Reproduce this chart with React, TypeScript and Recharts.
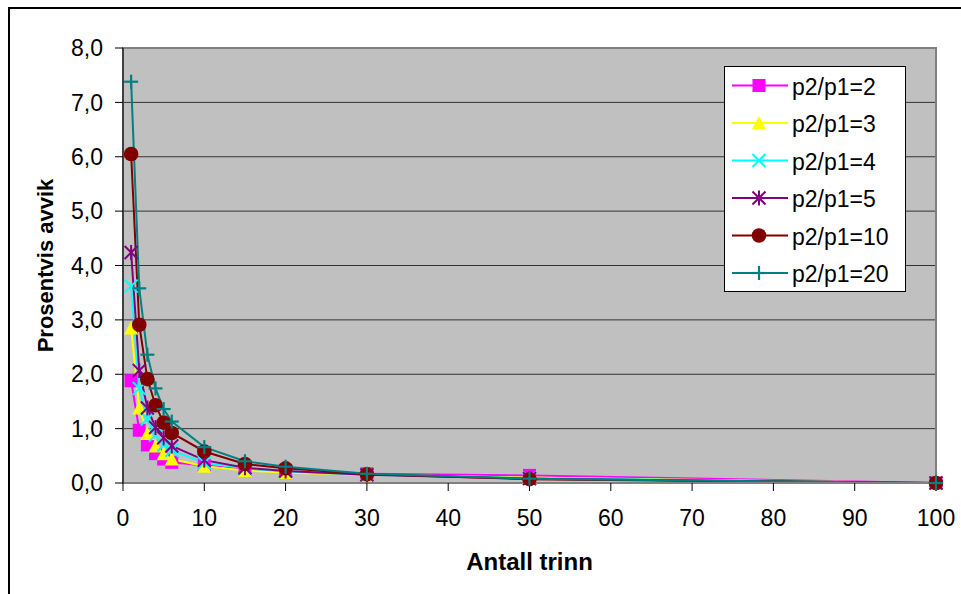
import {
  CartesianGrid,
  Legend,
  Line,
  LineChart,
  ReferenceArea,
  XAxis,
  YAxis,
} from "recharts";

const FONT = "'Liberation Sans', Arial, Helvetica, sans-serif";

// antall trinn
const steps = [1, 2, 3, 4, 5, 6, 10, 15, 20, 30, 50, 100];

// prosentvis avvik per trykkforhold
const ratio2 = [1.88, 0.97, 0.7, 0.54, 0.44, 0.38, 0.32, 0.25, 0.19, 0.17, 0.14, 0];
const ratio3 = [2.85, 1.38, 0.91, 0.68, 0.54, 0.44, 0.31, 0.23, 0.19, 0.15, 0.1, 0];
const ratio4 = [3.62, 1.74, 1.18, 0.88, 0.7, 0.6, 0.37, 0.27, 0.21, 0.15, 0.09, 0];
const ratio5 = [4.24, 2.07, 1.38, 1.02, 0.83, 0.68, 0.42, 0.28, 0.22, 0.15, 0.08, 0];
const ratio10 = [6.05, 2.91, 1.91, 1.43, 1.11, 0.92, 0.58, 0.35, 0.27, 0.16, 0.07, 0];
const ratio20 = [7.38, 3.58, 2.36, 1.74, 1.36, 1.13, 0.66, 0.4, 0.3, 0.17, 0.08, 0];

const xTicks = [0, 10, 20, 30, 40, 50, 60, 70, 80, 90, 100];
const yTicks = [0, 1, 2, 3, 4, 5, 6, 7, 8];

type Shape = "square" | "triangle" | "x" | "star" | "circle" | "plus";

const series: { key: string; name: string; color: string; shape: Shape }[] = [
  { key: "r2", name: "p2/p1=2", color: "#FF00FF", shape: "square" },
  { key: "r3", name: "p2/p1=3", color: "#FFFF00", shape: "triangle" },
  { key: "r4", name: "p2/p1=4", color: "#00FFFF", shape: "x" },
  { key: "r5", name: "p2/p1=5", color: "#800080", shape: "star" },
  { key: "r10", name: "p2/p1=10", color: "#800000", shape: "circle" },
  { key: "r20", name: "p2/p1=20", color: "#008080", shape: "plus" },
];

const data = steps.map((x, i) => ({
  x,
  r2: ratio2[i],
  r3: ratio3[i],
  r4: ratio4[i],
  r5: ratio5[i],
  r10: ratio10[i],
  r20: ratio20[i],
}));

const fmt = (v: number) => v.toFixed(1).replace(".", ",");

function Marker({ cx, cy, shape, color }: { cx: number; cy: number; shape: Shape; color: string }) {
  const s = 6.5;
  switch (shape) {
    case "square":
      return <rect x={cx - s} y={cy - s} width={s * 2} height={s * 2} fill={color} />;
    case "triangle":
      return (
        <polygon
          points={`${cx},${cy - s - 0.5} ${cx + s + 0.5},${cy + s} ${cx - s - 0.5},${cy + s}`}
          fill={color}
        />
      );
    case "x":
      return (
        <g stroke={color} strokeWidth={2}>
          <line x1={cx - s} y1={cy - s} x2={cx + s} y2={cy + s} />
          <line x1={cx - s} y1={cy + s} x2={cx + s} y2={cy - s} />
        </g>
      );
    case "star":
      return (
        <g stroke={color} strokeWidth={2}>
          <line x1={cx - s} y1={cy - s} x2={cx + s} y2={cy + s} />
          <line x1={cx - s} y1={cy + s} x2={cx + s} y2={cy - s} />
          <line x1={cx} y1={cy - s - 1} x2={cx} y2={cy + s + 1} />
        </g>
      );
    case "circle":
      return <circle cx={cx} cy={cy} r={7.3} fill={color} />;
    default:
      return (
        <g stroke={color} strokeWidth={2.2}>
          <line x1={cx - s - 0.5} y1={cy} x2={cx + s + 0.5} y2={cy} />
          <line x1={cx} y1={cy - s - 0.5} x2={cx} y2={cy + s + 0.5} />
        </g>
      );
  }
}

function LegendBox() {
  return (
    <svg width={182} height={226} style={{ display: "block" }}>
      <rect x={0.5} y={0.5} width={181} height={225} fill="#fff" stroke="#000" strokeWidth={1} />
      {series.map((s, i) => {
        const cy = 19.5 + i * 37.5;
        return (
          <g key={s.key}>
            <line x1={8} y1={cy} x2={64} y2={cy} stroke={s.color} strokeWidth={2} />
            <Marker cx={35} cy={cy} shape={s.shape} color={s.color} />
            <text x={68} y={cy + 9} fontSize={23} fontFamily={FONT} fill="#000">
              {s.name}
            </text>
          </g>
        );
      })}
    </svg>
  );
}

function YTitle(props: any) {
  const vb = props.viewBox || { x: 43, y: 48, width: 80, height: 435 };
  const x = vb.x + 10;
  const y = vb.y + vb.height / 2;
  return (
    <text
      x={x}
      y={y}
      transform={`rotate(-90 ${x} ${y})`}
      textAnchor="middle"
      fontSize={22}
      fontWeight="bold"
      fontFamily={FONT}
      fill="#000"
    >
      Prosentvis avvik
    </text>
  );
}

function XTitle(props: any) {
  const vb = props.viewBox || { x: 123, y: 483, width: 813, height: 100 };
  return (
    <text
      x={vb.x + vb.width / 2}
      y={vb.y + 87}
      textAnchor="middle"
      fontSize={24}
      fontWeight="bold"
      fontFamily={FONT}
      fill="#000"
    >
      Antall trinn
    </text>
  );
}

export default function App() {
  return (
    <div
      style={{
        position: "fixed",
        left: 0,
        top: 0,
        width: 961,
        height: 594,
        overflow: "hidden",
        background: "#fff",
        fontFamily: FONT,
      }}
    >
      <div
        style={{
          position: "absolute",
          left: 8,
          top: 7,
          right: -10,
          bottom: -10,
          borderLeft: "2px solid #000",
          borderTop: "2px solid #000",
        }}
      />
      <div style={{ position: "absolute", left: 0, top: 0 }}>
        <LineChart
          width={961}
          height={594}
          data={data}
          margin={{ top: 48, right: 25, left: 43, bottom: 11 }}
        >
          <CartesianGrid
            vertical={false}
            fill="#C0C0C0"
            stroke="#333"
            strokeWidth={1}
            fillOpacity={1}
          />
          <ReferenceArea
            x1={0}
            x2={100}
            y1={0}
            y2={8}
            fill="none"
            stroke="#808080"
            strokeWidth={2}
            ifOverflow="visible"
          />
          <XAxis
            dataKey="x"
            type="number"
            domain={[0, 100]}
            ticks={xTicks}
            height={100}
            tickSize={8}
            tickMargin={19}
            axisLine={{ stroke: "#808080", strokeWidth: 2 }}
            tickLine={{ stroke: "#000" }}
            tick={{ fontSize: 23, fill: "#000", fontFamily: FONT }}
            label={<XTitle />}
          />
          <YAxis
            type="number"
            domain={[0, 8]}
            ticks={yTicks}
            width={80}
            tickSize={8}
            tickMargin={12}
            tickFormatter={fmt}
            axisLine={{ stroke: "#000" }}
            tickLine={{ stroke: "#000" }}
            tick={{ fontSize: 23, fill: "#000", fontFamily: FONT }}
            label={<YTitle />}
          />
          {series.map((s) => (
            <Line
              key={s.key}
              type="linear"
              dataKey={s.key}
              name={s.name}
              stroke={s.color}
              strokeWidth={2}
              isAnimationActive={false}
              activeDot={false}
              dot={(p: any) => (
                <Marker key={`${s.key}-${p.index}`} cx={p.cx} cy={p.cy} shape={s.shape} color={s.color} />
              )}
            />
          ))}
          <Legend
            layout="vertical"
            align="center"
            verticalAlign="middle"
            content={() => <LegendBox />}
            wrapperStyle={{ position: "absolute", left: 724, top: 66, width: 182, height: 226 }}
          />
        </LineChart>
      </div>
    </div>
  );
}
